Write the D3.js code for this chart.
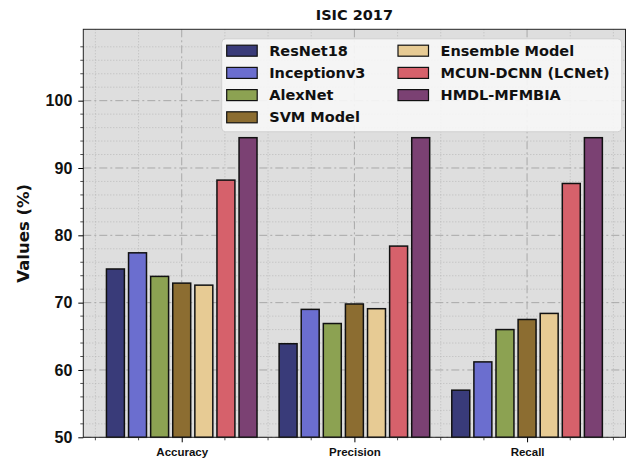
<!DOCTYPE html>
<html>
<head>
<meta charset="utf-8">
<script src="https://cdn.jsdelivr.net/npm/d3@7"></script>
<style>
  html, body { margin: 0; padding: 0; background: #ffffff; }
  svg { display: block; font-family: "DejaVu Sans", sans-serif; }
</style>
</head>
<body>
<svg id="chart" width="634" height="462"></svg>
<script>
// Metric groups along the x axis
const categories = ["Accuracy", "Precision", "Recall"];

// Model names (legend order)
const models = ["ResNet18", "Inceptionv3", "AlexNet", "SVM Model",
                "Ensemble Model", "MCUN-DCNN (LCNet)", "HMDL-MFMBIA"];

// Scores per model, in category order (Accuracy, Precision, Recall)
const resnet18   = [75.0, 63.9, 57.0];
const inception  = [77.4, 69.0, 61.2];
const alexnet    = [73.9, 66.9, 66.0];
const svmModel   = [72.9, 69.8, 67.5];
const ensemble   = [72.6, 69.1, 68.4];
const mcunDcnn   = [88.2, 78.4, 87.7];
const hmdl       = [94.5, 94.5, 94.5];
const seriesValues = [resnet18, inception, alexnet, svmModel, ensemble, mcunDcnn, hmdl];

const colors = ["#393b79", "#6b6ecf", "#8ca252", "#8c6d31", "#e7cb94", "#d6616b", "#7b4173"];

// Axis tick values
const yMajorTicks = [50, 60, 70, 80, 90, 100];
const yMinorTicks = d3.range(50, 111, 2);
const xMinorTicks = d3.range(-0.5, 2.51, 0.25);

const svg = d3.select("#chart");
const plotL = 83.3, plotR = 625.5, plotT = 29.3, plotB = 437.3;

const x = d3.scaleLinear().domain([-0.57, 2.57]).range([plotL, plotR]);
const y = d3.scaleLinear().domain([50, 110.6]).range([plotB, plotT]);

const pitch = 0.128, barW = 0.104;

// Plot background
svg.append("rect")
  .attr("x", plotL).attr("y", plotT)
  .attr("width", plotR - plotL).attr("height", plotB - plotT)
  .attr("fill", "#dedede");

const grid = svg.append("g");
// minor grid (dotted)
grid.selectAll("line.ymin").data(yMinorTicks.filter(v => v % 10 !== 0)).enter().append("line")
  .attr("x1", plotL).attr("x2", plotR)
  .attr("y1", d => y(d)).attr("y2", d => y(d))
  .attr("stroke", "#b4b4b4").attr("stroke-width", 0.8).attr("stroke-dasharray", "1,2");
grid.selectAll("line.xmin").data(xMinorTicks.filter(v => Math.abs(v - Math.round(v)) > 1e-6)).enter().append("line")
  .attr("y1", plotT).attr("y2", plotB)
  .attr("x1", d => x(d)).attr("x2", d => x(d))
  .attr("stroke", "#b4b4b4").attr("stroke-width", 0.8).attr("stroke-dasharray", "1,2");
// major grid (dash-dot)
grid.selectAll("line.ymaj").data(yMajorTicks).enter().append("line")
  .attr("x1", plotL).attr("x2", plotR)
  .attr("y1", d => y(d)).attr("y2", d => y(d))
  .attr("stroke", "#a8a8a8").attr("stroke-width", 1).attr("stroke-dasharray", "8,3,2,3");
grid.selectAll("line.xmaj").data(d3.range(categories.length)).enter().append("line")
  .attr("y1", plotT).attr("y2", plotB)
  .attr("x1", d => x(d)).attr("x2", d => x(d))
  .attr("stroke", "#a8a8a8").attr("stroke-width", 1).attr("stroke-dasharray", "8,3,2,3");

// Bars
const bars = svg.append("g");
seriesValues.forEach((vals, i) => {
  const off = (i - (models.length - 1) / 2) * pitch;
  bars.selectAll(null).data(vals).enter().append("rect")
    .attr("x", (d, j) => x(j + off - barW / 2))
    .attr("width", x(barW) - x(0))
    .attr("y", d => y(d))
    .attr("height", d => y(50) - y(d))
    .attr("fill", colors[i])
    .attr("stroke", "#111").attr("stroke-width", 1.5);
});

// Frame
svg.append("rect")
  .attr("x", plotL).attr("y", plotT)
  .attr("width", plotR - plotL).attr("height", plotB - plotT)
  .attr("fill", "none").attr("stroke", "#222").attr("stroke-width", 1);

// Y axis
const yAxis = svg.append("g").attr("transform", `translate(${plotL},0)`)
  .call(d3.axisLeft(y).tickValues(yMajorTicks).tickSize(5).tickPadding(6).tickFormat(d3.format("d")));
yAxis.select(".domain").remove();
yAxis.selectAll("text").attr("font-size", 16).attr("font-weight", "bold").attr("fill", "#111");
svg.append("g").selectAll("line").data(yMinorTicks.filter(v => v % 10 !== 0)).enter().append("line")
  .attr("x1", plotL - 3).attr("x2", plotL)
  .attr("y1", d => y(d)).attr("y2", d => y(d))
  .attr("stroke", "#222").attr("stroke-width", 0.8);

// X axis
const xAxis = svg.append("g").attr("transform", `translate(0,${plotB})`)
  .call(d3.axisBottom(x).tickValues([0, 1, 2]).tickSize(5).tickPadding(6).tickFormat(i => categories[i]));
xAxis.select(".domain").remove();
xAxis.selectAll("text").attr("font-size", 11.5).attr("font-weight", "bold").attr("fill", "#111");
svg.append("g").selectAll("line").data(xMinorTicks.filter(v => Math.abs(v - Math.round(v)) > 1e-6)).enter().append("line")
  .attr("x1", d => x(d)).attr("x2", d => x(d))
  .attr("y1", plotB).attr("y2", plotB + 3)
  .attr("stroke", "#222").attr("stroke-width", 0.8);

// Axis title and chart title
svg.append("text")
  .attr("transform", `translate(23.5,${(plotT + plotB) / 2}) rotate(-90)`)
  .attr("text-anchor", "middle").attr("dominant-baseline", "central")
  .attr("font-size", 16.5).attr("font-weight", "bold").attr("fill", "#111")
  .text("Values (%)");
svg.append("text")
  .attr("x", (plotL + plotR) / 2).attr("y", 20)
  .attr("text-anchor", "middle")
  .attr("font-size", 14.5).attr("font-weight", "bold").attr("fill", "#111")
  .text("ISIC 2017");

// Legend
const legend = svg.append("g");
legend.append("rect")
  .attr("x", 221.7).attr("y", 38.8).attr("width", 400).attr("height", 93)
  .attr("rx", 4).attr("fill", "#f6f6f6").attr("fill-opacity", 0.92)
  .attr("stroke", "#d0d0d0").attr("stroke-width", 1);
models.forEach((m, i) => {
  const col = i < 4 ? 0 : 1;
  const row = i < 4 ? i : i - 4;
  const px = col === 0 ? 226.7 : 398;
  const cy = 50.7 + row * 22.2;
  legend.append("rect")
    .attr("x", px).attr("y", cy - 5.5).attr("width", 30.5).attr("height", 11)
    .attr("fill", colors[i]).attr("stroke", "#111").attr("stroke-width", 1.2);
  legend.append("text")
    .attr("x", px + 42.5).attr("y", cy).attr("dominant-baseline", "central")
    .attr("font-size", 14.5).attr("font-weight", "bold").attr("fill", "#111")
    .text(m);
});
</script>
</body>
</html>
